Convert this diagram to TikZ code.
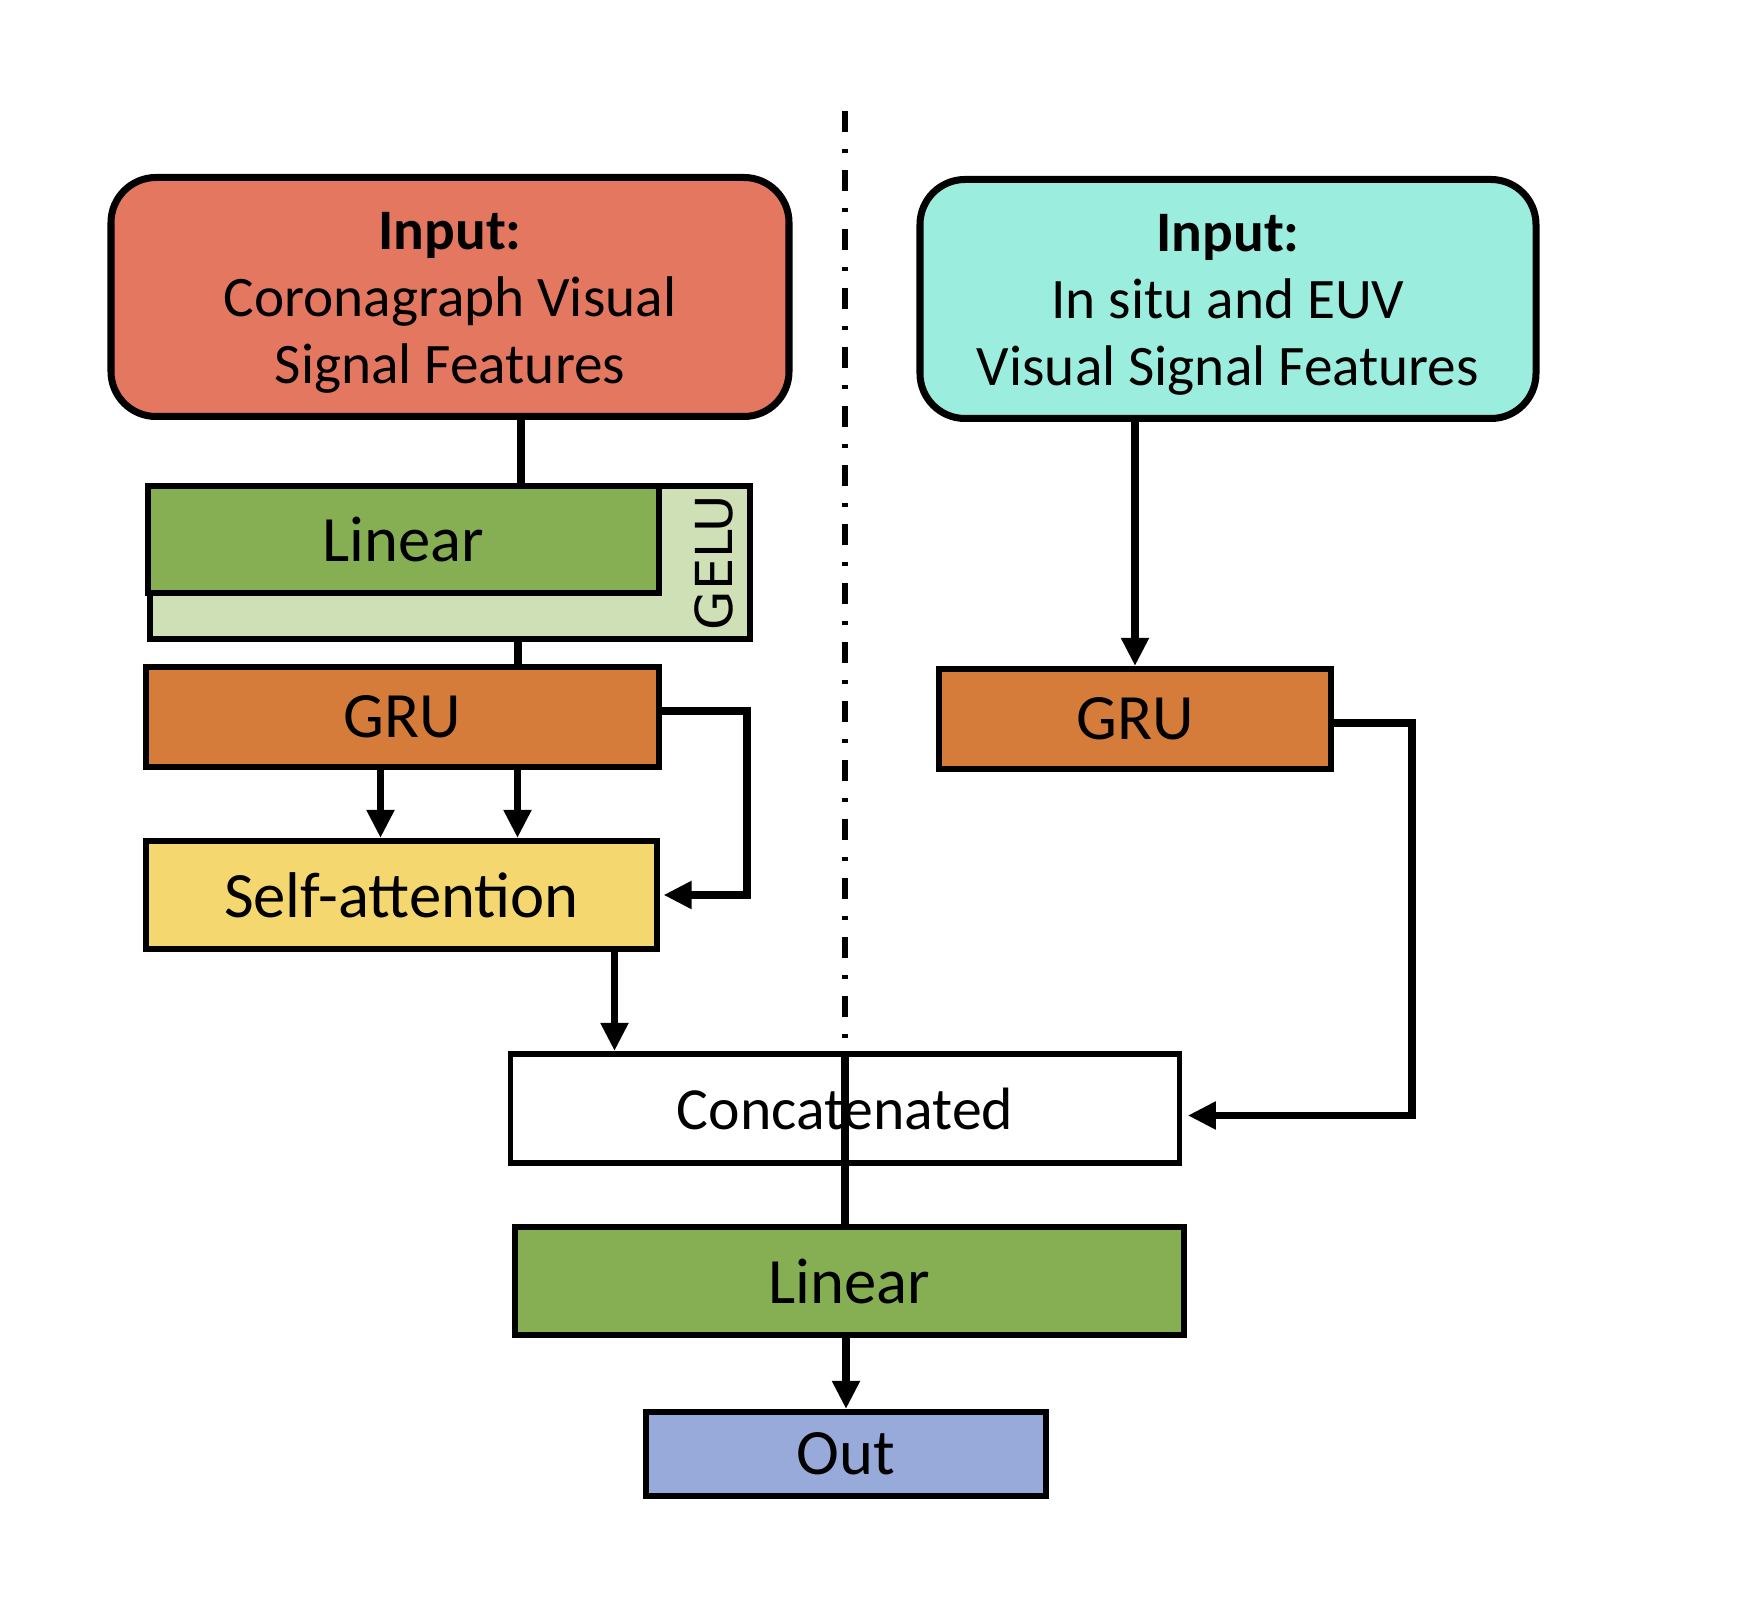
\documentclass[tikz,border=0pt]{standalone}
\usepackage{fontspec}
\setmainfont{Carlito}
\newfontfamily\gelufont{DejaVu Sans}
\usetikzlibrary{arrows.meta}

\definecolor{incoro}{HTML}{E47760}
\definecolor{insitu}{HTML}{9BEDDE}
\definecolor{linear}{HTML}{86AE52}
\definecolor{gelu}{HTML}{CFE0B6}
\definecolor{gru}{HTML}{D57C3A}
\definecolor{attn}{HTML}{F4D86F}
\definecolor{out}{HTML}{98AAD9}

\begin{document}
\begin{tikzpicture}[
  box/.style={draw, line width=1.7pt, minimum height=1.07cm, inner sep=0pt, font=\fontsize{18.4}{22}\selectfont},
  inbox/.style={draw, line width=2pt, rounded corners=0.45cm, align=center, minimum height=2.39cm, font=\fontsize{16.3}{19.1}\selectfont},
  link/.style={line width=2.2pt},
  arr/.style={link, -{Triangle[length=8pt, width=7.5pt]}}
]
\useasboundingbox (0,0) rectangle (17.43,15.99);

% Inputs
\node[inbox, fill=incoro, minimum width=6.78cm] (incor) at (4.50,13.02) {\rule{0pt}{14pt}\textbf{Input:}\\Coronagraph Visual\\Signal Features};
\node[inbox, fill=insitu, minimum width=6.16cm] (insitu) at (12.28,13.00) {\rule{0pt}{14pt}\textbf{Input:}\\In situ and EUV\\Visual Signal Features};

% Divider
\draw[line width=1.7pt, dash pattern=on 0.21cm off 0.17cm on 0.04cm off 0.17cm] (8.45,14.88) -- (8.45,5.56);

% Left branch
\node[box, fill=gelu, minimum width=6.00cm, minimum height=1.53cm] (gelu) at (4.50,10.365) {};
\node[box, fill=linear, minimum width=5.11cm] (lin1) at (4.035,10.595) {Linear};
\node[rotate=90, font=\gelufont\fontsize{14.5}{16}\selectfont] (gelutxt) at (7.14,10.36) {GELU};
\node[box, fill=gru, minimum width=5.13cm, minimum height=1.00cm] (gru1) at (4.025,8.82) {GRU};
\node[box, fill=attn, minimum width=5.11cm, minimum height=1.08cm] (attn) at (4.015,7.04) {Self-attention};

% Right branch
\node[box, fill=gru, minimum width=3.92cm, minimum height=1.00cm] (gru2) at (11.35,8.80) {GRU};

% Merge
\node[box, fill=white, minimum width=6.69cm, minimum height=1.09cm, font=\fontsize{17}{20}\selectfont] (concat) at (8.45,4.905) {Concatenated};
\node[box, fill=linear, minimum width=6.69cm, minimum height=1.08cm] (lin2) at (8.495,3.18) {Linear};
\node[box, fill=out, minimum width=4.00cm, minimum height=0.84cm] (out) at (8.46,1.45) {Out};

% Connectors
\draw[link] ([xshift=0.71cm]incor.south) -- ([xshift=0.71cm]incor.south |- lin1.north);
\draw[link] ([xshift=0.68cm]gelu.south) -- ([xshift=0.68cm]gelu.south |- gru1.north);
\foreach \dx in {-0.22,1.15}
  \draw[arr] ([xshift=\dx cm]gru1.south) -- ([xshift=\dx cm]gru1.south |- attn.north);
\draw[arr, shorten >=1pt] ([yshift=0.06cm]gru1.east) -- ++(0.85,0) |- (attn.east);
\draw[arr] ([xshift=2.13cm]attn.south) -- ([xshift=2.13cm]attn.south |- concat.north);
\draw[arr] (gru2.north |- insitu.south) -- (gru2.north);
\draw[arr, shorten >=1.5pt] ([yshift=-0.04cm]gru2.east) -- ++(0.78,0) |- ([yshift=-0.07cm]concat.east);
\draw[link] (concat.north) -- (concat.north |- lin2.north);
\draw[arr] (out.north |- lin2.south) -- (out.north);

\end{tikzpicture}
\end{document}
